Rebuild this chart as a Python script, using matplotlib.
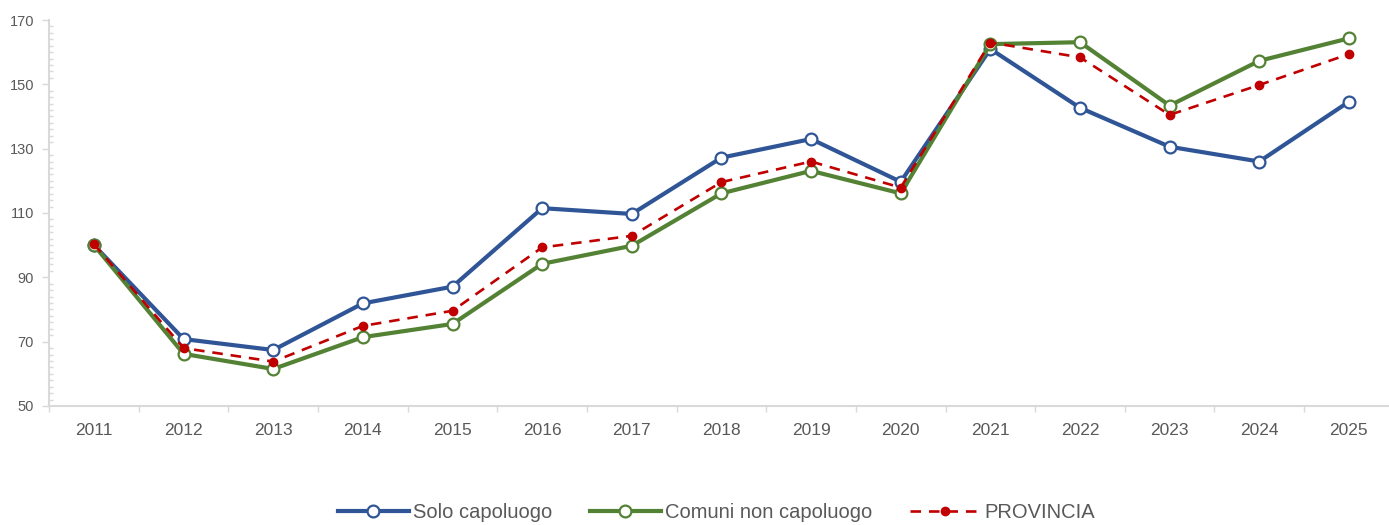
import numpy as np
import matplotlib.pyplot as plt
from matplotlib.ticker import MultipleLocator, FixedLocator, NullFormatter

plt.rcParams['font.family'] = ['Liberation Sans', 'DejaVu Sans']

# data
years = ['2011', '2012', '2013', '2014', '2015', '2016', '2017', '2018',
         '2019', '2020', '2021', '2022', '2023', '2024', '2025']
capoluogo = [100.0, 70.8, 67.4, 81.9, 87.1, 111.5, 109.7, 127.2,
             133.0, 119.7, 161.0, 142.7, 130.6, 126.0, 144.6]
non_capoluogo = [100.0, 66.2, 61.5, 71.4, 75.5, 94.2, 99.8, 116.1,
                 123.1, 116.1, 162.5, 163.1, 143.4, 157.3, 164.3]
provincia = [100.3, 68.0, 63.8, 74.9, 79.6, 99.3, 102.9, 119.6,
             126.0, 117.9, 163.0, 158.4, 140.5, 149.8, 159.4]
y_ticks = [50, 70, 90, 110, 130, 150, 170]

grey = '#d9d9d9'
txt = '#595959'

fig = plt.figure(figsize=(13.89, 5.25), dpi=100)
ax = fig.add_axes([0.0354, 0.2267, 0.968, 0.7352])

x = np.arange(len(years))

ax.plot(x, capoluogo, color='#2f5597', lw=3.0, marker='o', ms=8.5,
        mfc='white', mec='#2f5597', mew=1.6, label='Solo capoluogo', zorder=3)
ax.plot(x, non_capoluogo, color='#548235', lw=3.0, marker='o', ms=8.5,
        mfc='white', mec='#548235', mew=1.6, label='Comuni non capoluogo', zorder=4)
ax.plot(x, provincia, color='#c00000', lw=1.9, ls=(0, (4, 3)), marker='o', ms=6,
        mfc='#c00000', mec='#c00000', label='PROVINCIA', zorder=5)

ax.set_xlim(-0.5, len(years) - 0.5)
ax.set_ylim(50, 170)

# y axis
ax.yaxis.set_major_locator(FixedLocator(y_ticks))
ax.yaxis.set_minor_locator(MultipleLocator(2))
ax.tick_params(axis='y', which='major', direction='out', length=5, width=1,
               color=grey, labelcolor=txt, labelsize=10.5, pad=6)
ax.tick_params(axis='y', which='minor', direction='in', length=3, width=1, color=grey)

# x axis: marks between categories, labels at categories
ax.xaxis.set_major_locator(FixedLocator(np.arange(-0.5, len(years), 1.0)))
ax.xaxis.set_major_formatter(NullFormatter())
ax.set_xticks(x, years, minor=True)
ax.tick_params(axis='x', which='major', direction='out', length=4.5, width=1, color=grey)
ax.tick_params(axis='x', which='minor', length=0, labelcolor=txt, labelsize=12.5, pad=12.5)

for side in ['top', 'right']:
    ax.spines[side].set_visible(False)
for side in ['left', 'bottom']:
    ax.spines[side].set_color(grey)
    ax.spines[side].set_linewidth(1.5)

fig.legend(loc='center', bbox_to_anchor=(0.516, 0.024), ncol=3, frameon=False,
           fontsize=14.5, handlelength=3.5, handletextpad=0.2, columnspacing=1.9,
           labelcolor=txt)

fig.savefig('out.png', dpi=100)
